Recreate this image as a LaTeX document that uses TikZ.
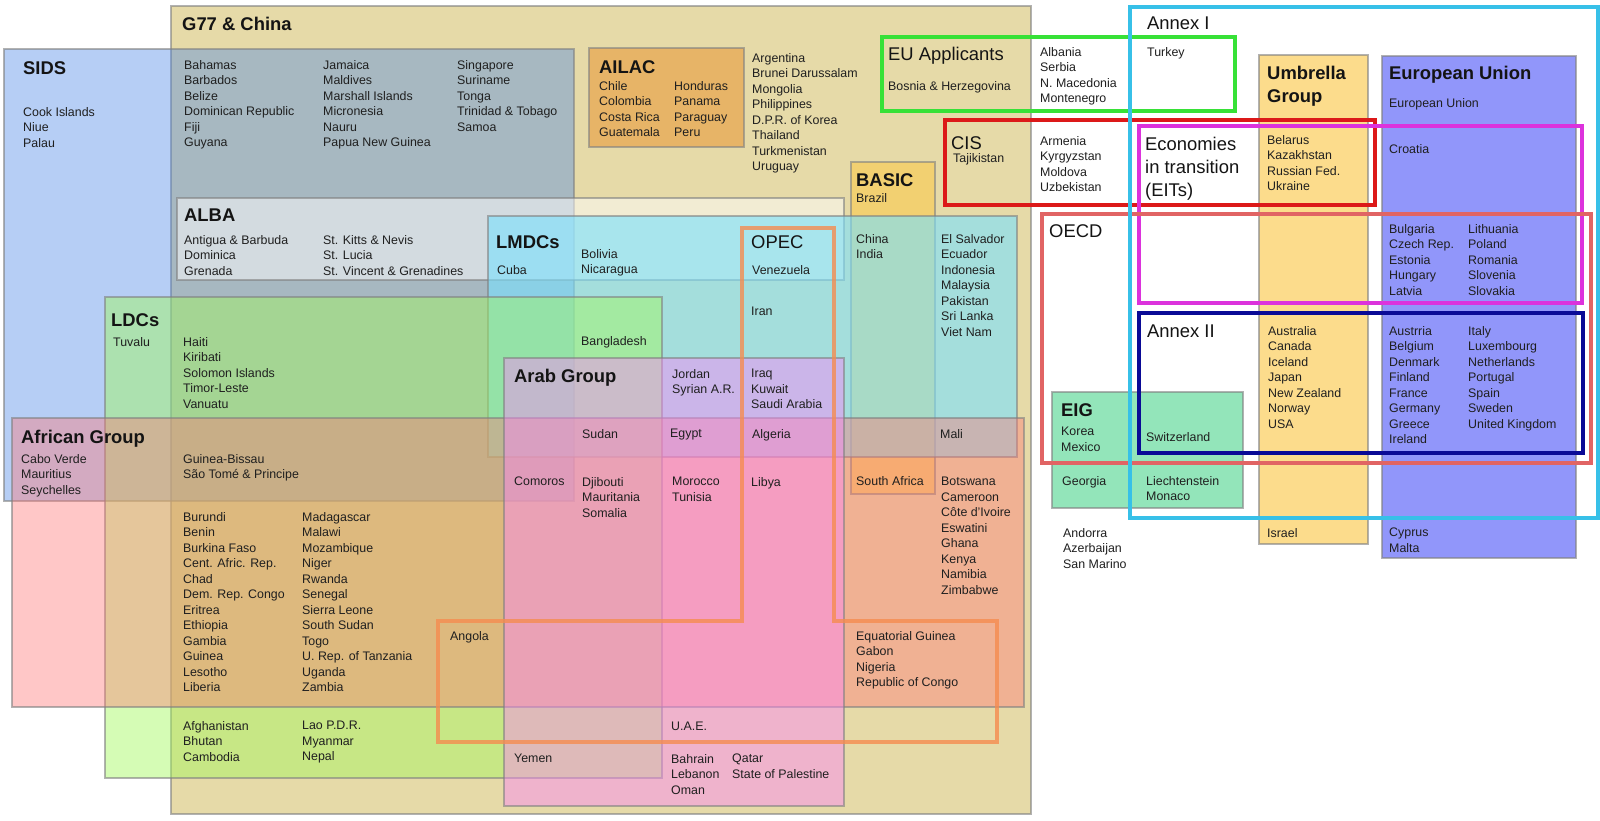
\documentclass[tikz,border=0pt]{standalone}
\usepackage{fontspec}
\setmainfont{Liberation Sans}

% group fills
\definecolor{g77col}{RGB}{230,218,168}
\definecolor{sidscol}{RGB}{74,134,232}
\definecolor{ailaccol}{RGB}{232,150,50}
\definecolor{basiccol}{RGB}{255,200,60}
\definecolor{lmdccol}{RGB}{120,225,255}
\definecolor{ldccol}{RGB}{162,249,91}
\definecolor{africancol}{RGB}{255,117,117}
\definecolor{arabcol}{RGB}{252,133,250}
\definecolor{eigcol}{RGB}{147,229,186}
\definecolor{umbrellacol}{RGB}{252,220,140}
\definecolor{eucol}{RGB}{145,150,250}
% outline groups
\definecolor{opeccol}{RGB}{245,140,80}
\definecolor{euappcol}{RGB}{55,225,55}
\definecolor{ciscol}{RGB}{220,25,25}
\definecolor{eitcol}{RGB}{220,50,220}
\definecolor{oecdcol}{RGB}{225,100,100}
\definecolor{annexiicol}{RGB}{10,10,150}
\definecolor{annexicol}{RGB}{55,192,232}

\tikzset{
    ctry/.style={anchor=north west, inner sep=0pt, align=left, text=black!88, font=\fontsize{12.4}{15.5}\selectfont},
    grptitle/.style={anchor=north west, inner sep=0pt, align=left, text=black!92, font=\fontsize{18.4}{23}\selectfont\bfseries},
    outtitle/.style={grptitle, font=\fontsize{18.4}{23}\selectfont},
    grpbox/.style={draw=black!50, draw opacity=0.6, line width=1.2pt},
    outbox/.style={line width=3.2pt},
}

\begin{document}
\begin{tikzpicture}[x=1pt,y=-1pt]
\useasboundingbox (0,0) rectangle (1600,820);
\fill[white] (0,0) rectangle (1600,820);

% filled groups, from the bottom up
\begin{scope}
    \foreach \xa/\ya/\xb/\yb/\col/\op in {
        171/6/1031/814/g77col/1,
        4/49/574/501/sidscol/0.4,
        589/48/744/147/ailaccol/0.55,
        177/198/844/280/white/0.5,
        851/162/935/494/basiccol/0.5,
        488/216/1017/457/lmdccol/0.6,
        105/297/662/778/ldccol/0.45,
        12/418/1024/707/africancol/0.4,
        504/358/844/806/arabcol/0.45,
        1052/392/1243/508/eigcol/1,
        1259/55/1368/544/umbrellacol/1,
        1382/56/1576/558/eucol/1}
        \filldraw[grpbox, fill=\col, fill opacity=\op] (\xa,\ya) rectangle (\xb,\yb);
\end{scope}

% outline groups
\begin{scope}
    \draw[outbox, draw=opeccol, draw opacity=0.8] (742,228) -- (834,228) -- (834,621) -- (997,621)
        -- (997,742) -- (438,742) -- (438,621) -- (742,621) -- cycle;
    \foreach \xa/\ya/\xb/\yb/\col in {
        882/37/1235/111/euappcol,
        945/120/1375/205/ciscol,
        1139/126/1582/303/eitcol,
        1042/214/1591/463/oecdcol,
        1139/313/1583/453/annexiicol,
        1130/7/1598/518/annexicol}
        \draw[outbox, draw=\col] (\xa,\ya) rectangle (\xb,\yb);
\end{scope}

% group names
\begin{scope}[every node/.style={grptitle}]
    \node (g77t) at (182,17) {G77 \& China};
    \node (sidst) at (23,61) {SIDS};
    \node (albat) at (184,209) {ALBA};
    \node (ailact) at (599,60) {AILAC};
    \node (lmdct) at (496,235) {LMDCs};
    \node (basict) at (856,173) {BASIC};
    \node (ldct) at (111,313) {LDCs};
    \node (africant) at (21,430) {African Group};
    \node (arabt) at (514,369) {Arab Group};
    \node (eigt) at (1061,403) {EIG};
    \node (umbrellat) at (1267,66) {Umbrella\\Group};
    \node (eut) at (1389,66) {European Union};
    \node[outtitle] (opect) at (751,235) {OPEC};
    \node[outtitle] (euappt) at (888,47) {EU Applicants};
    \node[outtitle] (annexit) at (1147,17) {Annex I};
    \node[outtitle] (cist) at (951,136) {CIS};
    \node[outtitle] (eitt) at (1145,137) {Economies\\in transition\\(EITs)};
    \node[outtitle] (oecdt) at (1049,224) {OECD};
    \node[outtitle] (annexiit) at (1147,325) {Annex II};
\end{scope}

% countries
\begin{scope}[every node/.style={ctry}]
    \node (sids1) at (23,107) {Cook Islands\\Niue\\Palau};
    \node (sids2) at (184,60) {Bahamas\\Barbados\\Belize\\Dominican Republic\\Fiji\\Guyana};
    \node (sids3) at (323,60) {Jamaica\\Maldives\\Marshall Islands\\Micronesia\\Nauru\\Papua New Guinea};
    \node (sids4) at (457,60) {Singapore\\Suriname\\Tonga\\Trinidad \& Tobago\\Samoa};
    \node (ailac1) at (599,81) {Chile\\Colombia\\Costa Rica\\Guatemala};
    \node (ailac2) at (674,81) {Honduras\\Panama\\Paraguay\\Peru};
    \node (lmdc1) at (752,53) {Argentina\\Brunei Darussalam\\Mongolia\\Philippines\\D.P.R. of Korea\\Thailand\\Turkmenistan\\Uruguay};
    \node (alba1) at (184,235) {Antigua \& Barbuda\\Dominica\\Grenada};
    \node (alba2) at (323,235) {St. Kitts \& Nevis\\St. Lucia\\St. Vincent \& Grenadines};
    \node (lmdc2) at (497,265) {Cuba};
    \node (lmdc3) at (581,249) {Bolivia\\Nicaragua};
    \node (opec1) at (752,265) {Venezuela};
    \node (basic1) at (856,193) {Brazil};
    \node (basic2) at (856,234) {China\\India};
    \node (lmdc4) at (941,234) {El Salvador\\Ecuador\\Indonesia\\Malaysia\\Pakistan\\Sri Lanka\\Viet Nam};
    \node (euapp1) at (888,81) {Bosnia \& Herzegovina};
    \node (euapp2) at (1040,47) {Albania\\Serbia\\N. Macedonia\\Montenegro};
    \node (annexi1) at (1147,47) {Turkey};
    \node (cis1) at (953,153) {Tajikistan};
    \node (cis2) at (1040,136) {Armenia\\Kyrgyzstan\\Moldova\\Uzbekistan};
    \node (umbrella1) at (1267,135) {Belarus\\Kazakhstan\\Russian Fed.\\Ukraine};
    \node (eu1) at (1389,98) {European Union};
    \node (eu2) at (1389,144) {Croatia};
    \node (eu3) at (1389,224) {Bulgaria\\Czech Rep.\\Estonia\\Hungary\\Latvia};
    \node (eu4) at (1468,224) {Lithuania\\Poland\\Romania\\Slovenia\\Slovakia};
    \node (ldc1) at (113,337) {Tuvalu};
    \node (ldc2) at (183,337) {Haiti\\Kiribati\\Solomon Islands\\Timor-Leste\\Vanuatu};
    \node (opec2) at (751,307) {Iran};
    \node (ldc3) at (581,336) {Bangladesh};
    \node (arab1) at (672,369) {Jordan\\Syrian A.R.};
    \node (arab2) at (751,369) {Iraq\\Kuwait\\Saudi Arabia};
    \node (african1) at (21,454) {Cabo Verde\\Mauritius\\Seychelles};
    \node (african2) at (183,454) {Guinea-Bissau\\São Tomé \& Principe};
    \node (arab3) at (582,429) {Sudan};
    \node (arab4) at (670,429) {Egypt};
    \node (arab5) at (752,429) {Algeria};
    \node (african3) at (940,429) {Mali};
    \node (arab6) at (514,477) {Comoros};
    \node (arab7) at (582,477) {Djibouti\\Mauritania\\Somalia};
    \node (arab8) at (672,477) {Morocco\\Tunisia};
    \node (arab9) at (751,477) {Libya};
    \node (basic3) at (856,476) {South Africa};
    \node (african4) at (941,477) {Botswana\\Cameroon\\Côte d'Ivoire\\Eswatini\\Ghana\\Kenya\\Namibia\\Zimbabwe};
    \node (african5) at (183,512) {Burundi\\Benin\\Burkina Faso\\Cent. Afric. Rep.\\Chad\\Dem. Rep. Congo\\Eritrea\\Ethiopia\\Gambia\\Guinea\\Lesotho\\Liberia};
    \node (african6) at (302,512) {Madagascar\\Malawi\\Mozambique\\Niger\\Rwanda\\Senegal\\Sierra Leone\\South Sudan\\Togo\\U. Rep. of Tanzania\\Uganda\\Zambia};
    \node (opec3) at (450,631) {Angola};
    \node (opec4) at (856,631) {Equatorial Guinea\\Gabon\\Nigeria\\Republic of Congo};
    \node (ldc4) at (183,721) {Afghanistan\\Bhutan\\Cambodia};
    \node (ldc5) at (302,721) {Lao P.D.R.\\Myanmar\\Nepal};
    \node (arab10) at (514,754) {Yemen};
    \node (opec5) at (671,722) {U.A.E.};
    \node (arab11) at (671,754) {Bahrain\\Lebanon\\Oman};
    \node (arab12) at (732,754) {Qatar\\State of Palestine};
    \node (eig1) at (1061,427) {Korea\\Mexico};
    \node (eig2) at (1146,432) {Switzerland};
    \node (eig3) at (1062,476) {Georgia};
    \node (eig4) at (1146,476) {Liechtenstein\\Monaco};
    \node (other1) at (1063,528) {Andorra\\Azerbaijan\\San Marino};
    \node (umbrella2) at (1268,326) {Australia\\Canada\\Iceland\\Japan\\New Zealand\\Norway\\USA};
    \node (eu5) at (1389,326) {Austrria\\Belgium\\Denmark\\Finland\\France\\Germany\\Greece\\Ireland};
    \node (eu6) at (1468,326) {Italy\\Luxembourg\\Netherlands\\Portugal\\Spain\\Sweden\\United Kingdom};
    \node (umbrella3) at (1267,528) {Israel};
    \node (eu7) at (1389,528) {Cyprus\\Malta};
\end{scope}
\end{tikzpicture}
\end{document}
